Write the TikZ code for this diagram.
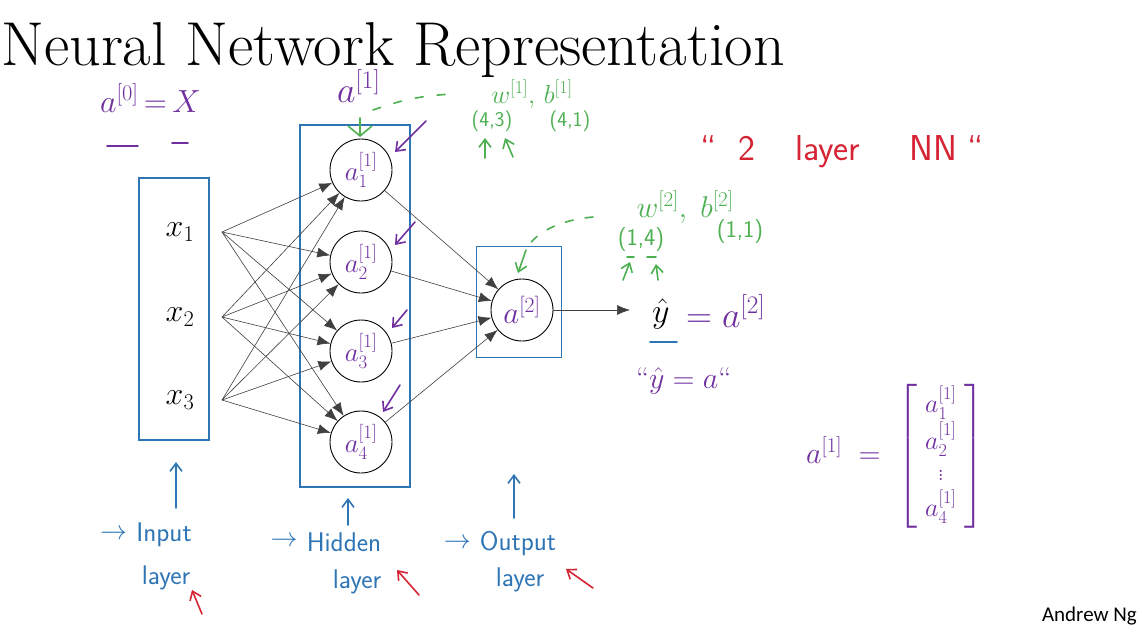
\RequirePackage{fix-cm}
\documentclass[tikz,border=0pt]{standalone}
\usepackage{amsmath}
\usepackage{amssymb}
\usepackage{fontspec}
\newfontfamily\signfont{Carlito}
\usetikzlibrary{arrows.meta}
\usetikzlibrary{positioning}

\definecolor{penblue}{RGB}{46,117,182}
\definecolor{penpurple}{RGB}{112,48,160}
\definecolor{pengreen}{RGB}{76,175,80}
\definecolor{penred}{RGB}{214,36,52}

\newcommand{\setfs}[1]{\fontsize{#1}{#1}\selectfont}

\tikzset{
  neuron/.style={circle, draw=black, line width=0.9pt, minimum size=62pt, inner sep=0pt, text=penpurple, font=\setfs{27}},
  layerbox/.style={draw=penblue, line width=1.8pt, inner sep=0pt},
  link/.style={draw=black!75, line width=0.6pt, -{Latex[length=13pt,width=10pt]}},
  pen/.style={line width=1.6pt, line cap=round, line join=round},
  penarrow/.style={pen, -{Straight Barb[length=8pt,width=12pt]}},
  handtext/.style={font=\sffamily\setfs{#1}},
}

\begin{document}
\begin{tikzpicture}[x=1pt, y=-1pt]
        \fill[white] (0,0) rectangle (1142,632);
        \useasboundingbox (0,0) rectangle (1142,632);

        \node[anchor=base west, inner sep=0pt, font=\rmfamily\setfs{62}] (title) at (1,65) {Neural Network Representation};

        % layer boxes
        \node[layerbox, minimum width=70pt, minimum height=262pt] (inbox) at (174,309) {};
        \node[layerbox, minimum width=110pt, minimum height=362pt] (hidbox) at (355,306) {};
        \node[layerbox, minimum width=85pt, minimum height=111pt] (outbox) at (519,302) {};

        % inputs and units
        \foreach \i/\y in {1/232, 2/317, 3/400} {
            \node[font=\setfs{32}] (x\i) at (180,\y) {$x_\i$};
            \coordinate (s\i) at (222,\y);
        }
        \foreach \j/\y in {1/170, 2/262, 3/351, 4/442}
            \node[neuron] (h\j) at (361,\y) {$a^{[1]}_\j$};
        \node[neuron, font=\setfs{31}] (o) at (522,310) {$a^{[2]}$};

        \foreach \i in {1,2,3}
            \foreach \j in {1,...,4}
                \draw[link] (s\i) -- (h\j);
        \foreach \j in {1,...,4}
            \draw[link] (h\j) -- (o);
        \coordinate (yend) at (630,310);
        \draw[link] (o) -- (yend);

        % output value
        \node[anchor=base west, inner sep=0pt, font=\setfs{34}] (yhat) at (652,322) {$\hat{y}$};
        \node[anchor=base west, inner sep=0pt, text=penpurple, font=\setfs{36}] (yeq) at (686,327) {$= a^{[2]}$};
        \draw[pen, penblue] (650,342) -- (677,342);
        \node[anchor=base west, inner sep=0pt, text=penpurple, font=\setfs{30}] (yq) at (636,388) {\textquotedblleft$\hat{y} = a$\textquotedblleft};

        % a[0] = X
        \node[anchor=base west, inner sep=0pt, text=penpurple, font=\setfs{32}] (a0) at (100,112) {$a^{[0]}\,{=}\,X$};
        \draw[pen, penpurple] (107,146) -- (138,146);
        \draw[pen, penpurple] (172,143) -- (188,143);

        % layer 1 parameters
        \node[anchor=base west, inner sep=0pt, text=penpurple, font=\setfs{36}] (a1lbl) at (337,102) {$a^{[1]}$};
        \node[anchor=base, inner sep=0pt, text=pengreen, font=\setfs{26}] (w1) at (532,103) {$w^{[1]},\, b^{[1]}$};
        \node[handtext=21, text=pengreen] (w1dim) at (492,121) {(4,3)};
        \node[handtext=21, text=pengreen] (b1dim) at (570,121) {(4,1)};
        \draw[pen, pengreen, dash pattern=on 8pt off 14pt] (373,110) to[bend left=8] (452,94);
        \draw[pen, pengreen, -{Straight Barb[length=10pt,width=24pt]}] (360,118) -- (360,137);
        \draw[penarrow, pengreen] (485,158) -- (485,138);
        \draw[penarrow, pengreen] (513,157) -- (505,138);

        % layer 2 parameters
        \node[anchor=base, inner sep=0pt, text=pengreen, font=\setfs{30}] (w2) at (685,217) {$w^{[2]},\; b^{[2]}$};
        \node[handtext=24, text=pengreen] (w2dim) at (641,240) {(1,4)};
        \node[handtext=24, text=pengreen] (b2dim) at (740,232) {(1,1)};
        \draw[pen, pengreen, dash pattern=on 8pt off 12pt] (593,217) .. controls (560,220) and (535,232) .. (526,250);
        \draw[penarrow, pengreen] (526,250) -- (518,273);
        \draw[pen, pengreen] (627,257) -- (634,257);
        \draw[pen, pengreen] (647,257) -- (656,257);
        \draw[penarrow, pengreen] (623,280) -- (630,262);
        \draw[penarrow, pengreen] (658,280) -- (656,264);

        % pointers to hidden units
        \draw[penarrow, penpurple] (426,121) -- (395,152);
        \draw[penarrow, penpurple] (415,222) -- (395,245);
        \draw[penarrow, penpurple] (407,310) -- (392,328);
        \draw[penarrow, penpurple] (400,385) -- (383,412);

        % 2 layer NN
        \node[anchor=base west, inner sep=0pt, text=penred, font=\sffamily\setfs{36}] (nnlbl) at (700,160) {\textquotedblleft\hspace{22pt}2\hspace{40pt}layer\hspace{50pt}NN\hspace{10pt}\textquotedblleft};

        % vector a[1]
        \node[anchor=west, inner sep=0pt, text=penpurple, font=\setfs{30}] (avec) at (806,456) {$a^{[1]} \;=\; {\setfs{26}\renewcommand{\arraystretch}{1.2}\setlength{\arraycolsep}{8pt}\left[\begin{array}{c} a^{[1]}_1\\ a^{[1]}_2\\ \vdots\\ a^{[1]}_4 \end{array}\right]}$};

        % layer names
        \node[handtext=27, text=penblue] (inlbl) at (164,535) {Input};
        \node[handtext=27, text=penblue] (inlayer) at (166,578) {layer};
        \node[handtext=27, text=penblue, left=2pt of inlbl] (inarr) {$\rightarrow$};
        \node[handtext=27, text=penblue] (hidlbl) at (344,542) {Hidden};
        \node[handtext=27, text=penblue] (hidlayer) at (357,582) {layer};
        \node[handtext=27, text=penblue, left=2pt of hidlbl] (hidarr) {$\rightarrow$};
        \node[handtext=27, text=penblue] (outlbl) at (518,544) {Output};
        \node[handtext=27, text=penblue] (outlayer) at (520,580) {layer};
        \node[handtext=27, text=penblue, left=2pt of outlbl] (outarr) {$\rightarrow$};

        \draw[penarrow, penblue] (176,508) -- (176,462);
        \draw[penarrow, penblue] (348,525) -- (348,498);
        \draw[penarrow, penblue] (514,518) -- (514,474);
        \draw[penarrow, penred] (202,614) -- (192,590);
        \draw[penarrow, penred] (419,595) -- (397,570);
        \draw[penarrow, penred] (593,588) -- (566,569);

        \node[anchor=base east, inner sep=0pt, font=\signfont\setfs{21}] (sign) at (1137,621) {Andrew Ng};
\end{tikzpicture}
\end{document}
